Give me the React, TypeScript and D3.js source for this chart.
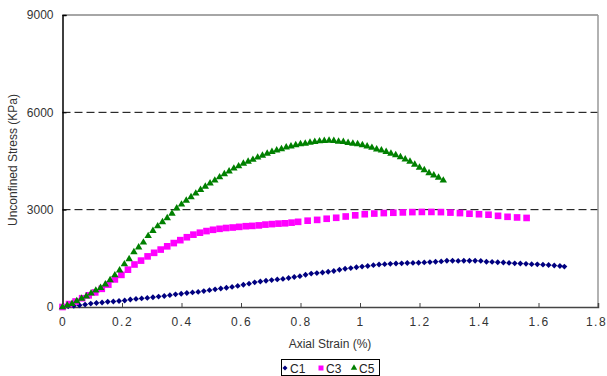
import React, { useEffect, useRef } from 'react';
import * as d3 from 'd3';

// axial strain (%), unconfined stress (kPa)
const c1: [number, number][] = [
  [0.000, 0], [0.019, 20], [0.038, 40], [0.057, 55], [0.076, 75], [0.095, 105],
  [0.114, 125], [0.133, 140], [0.152, 160], [0.171, 170], [0.190, 185], [0.209, 200],
  [0.228, 230], [0.247, 250], [0.266, 265], [0.285, 280], [0.304, 300], [0.323, 320],
  [0.342, 340], [0.361, 365], [0.380, 390], [0.399, 410], [0.418, 430], [0.437, 450],
  [0.456, 465], [0.475, 490], [0.494, 520], [0.513, 545], [0.532, 570], [0.551, 595],
  [0.570, 620], [0.589, 650], [0.608, 685], [0.627, 720], [0.646, 760], [0.665, 785],
  [0.684, 810], [0.703, 830], [0.722, 850], [0.741, 865], [0.760, 895], [0.779, 925],
  [0.798, 950], [0.817, 995], [0.836, 1030], [0.855, 1045], [0.874, 1065], [0.893, 1085],
  [0.912, 1110], [0.931, 1150], [0.950, 1180], [0.969, 1200], [0.988, 1225], [1.007, 1245],
  [1.026, 1265], [1.045, 1290], [1.064, 1310], [1.083, 1320], [1.102, 1330], [1.121, 1340],
  [1.140, 1345], [1.159, 1355], [1.178, 1360], [1.197, 1365], [1.216, 1375], [1.235, 1385],
  [1.254, 1395], [1.273, 1405], [1.292, 1425], [1.311, 1425], [1.330, 1420], [1.349, 1425],
  [1.368, 1425], [1.387, 1425], [1.406, 1420], [1.425, 1395], [1.444, 1390], [1.463, 1380],
  [1.482, 1370], [1.501, 1360], [1.520, 1345], [1.539, 1340], [1.558, 1330], [1.577, 1320],
  [1.596, 1315], [1.615, 1305], [1.634, 1295], [1.653, 1280], [1.672, 1265], [1.687, 1245],
];

const c3: [number, number][] = [
  [0.000, 0], [0.022, 90], [0.044, 170], [0.066, 270], [0.088, 360], [0.110, 450],
  [0.132, 560], [0.154, 690], [0.176, 850], [0.198, 990], [0.220, 1150], [0.242, 1310],
  [0.264, 1430], [0.286, 1560], [0.308, 1670], [0.330, 1770], [0.352, 1870], [0.374, 1970],
  [0.396, 2060], [0.418, 2150], [0.440, 2230], [0.462, 2290], [0.484, 2340], [0.506, 2380],
  [0.528, 2410], [0.550, 2435], [0.572, 2450], [0.594, 2470], [0.616, 2490], [0.638, 2500],
  [0.660, 2515], [0.682, 2540], [0.704, 2555], [0.726, 2570], [0.748, 2580], [0.770, 2600],
  [0.792, 2625], [0.824, 2660], [0.856, 2685], [0.888, 2720], [0.920, 2750], [0.952, 2790],
  [0.984, 2825], [1.016, 2860], [1.048, 2880], [1.080, 2895], [1.112, 2905], [1.144, 2915],
  [1.176, 2925], [1.208, 2930], [1.240, 2930], [1.272, 2925], [1.304, 2910], [1.336, 2895],
  [1.368, 2875], [1.400, 2860], [1.432, 2845], [1.464, 2810], [1.496, 2780], [1.528, 2760],
  [1.560, 2745],
];

const c5: [number, number][] = [
  [0.000, 0], [0.016, 50], [0.032, 100], [0.048, 180], [0.064, 260], [0.080, 330],
  [0.096, 420], [0.112, 510], [0.128, 590], [0.144, 700], [0.160, 830], [0.176, 980],
  [0.192, 1130], [0.208, 1320], [0.224, 1480], [0.240, 1690], [0.256, 1840], [0.272, 1990],
  [0.288, 2190], [0.304, 2350], [0.320, 2490], [0.336, 2620], [0.352, 2740], [0.368, 2880],
  [0.384, 3040], [0.400, 3160], [0.416, 3280], [0.432, 3390], [0.448, 3500], [0.464, 3610],
  [0.480, 3710], [0.496, 3810], [0.512, 3900], [0.528, 4000], [0.544, 4100], [0.560, 4180],
  [0.576, 4270], [0.592, 4340], [0.608, 4420], [0.624, 4480], [0.640, 4540], [0.656, 4610],
  [0.672, 4670], [0.688, 4730], [0.704, 4780], [0.720, 4830], [0.736, 4870], [0.752, 4920],
  [0.768, 4950], [0.784, 4990], [0.800, 5020], [0.816, 5040], [0.832, 5070], [0.848, 5090],
  [0.864, 5110], [0.880, 5120], [0.896, 5130], [0.912, 5120], [0.928, 5100], [0.944, 5090],
  [0.960, 5060], [0.976, 5040], [0.992, 5020], [1.008, 4990], [1.024, 4950], [1.040, 4910],
  [1.056, 4860], [1.072, 4830], [1.088, 4780], [1.104, 4730], [1.120, 4680], [1.136, 4620],
  [1.152, 4550], [1.168, 4480], [1.184, 4390], [1.200, 4300], [1.216, 4220], [1.232, 4130],
  [1.248, 4060], [1.264, 3990], [1.280, 3900],
];

const seriesNames = ['C1', 'C3', 'C5'];
const xTicks = [0, 0.2, 0.4, 0.6, 0.8, 1, 1.2, 1.4, 1.6, 1.8];
const yTicks = [0, 3000, 6000, 9000];

const W = 607;
const H = 376;
const font = 'Arial, "Liberation Sans", sans-serif';

export default function App() {
  const svgRef = useRef<SVGSVGElement>(null);

  useEffect(() => {
    const svg = d3.select(svgRef.current);
    svg.selectAll('*').remove();

    const x = d3.scaleLinear().domain([0, 1.8]).range([62.5, 598]);
    const y = d3.scaleLinear().domain([0, 9000]).range([307, 15]);

    // dashed gridlines
    svg.append('g')
      .selectAll('line')
      .data(yTicks.filter(t => t > 0 && t < 9000))
      .join('line')
      .attr('x1', x(0)).attr('x2', x(1.8))
      .attr('y1', d => y(d)).attr('y2', d => y(d))
      .attr('stroke', '#000').attr('stroke-width', 1)
      .attr('stroke-dasharray', '8,4');

    // frame: top + right grey
    svg.append('line')
      .attr('x1', x(0)).attr('x2', x(1.8)).attr('y1', y(9000)).attr('y2', y(9000))
      .attr('stroke', '#888').attr('stroke-width', 1.5);
    svg.append('line')
      .attr('x1', x(1.8)).attr('x2', x(1.8)).attr('y1', y(9000)).attr('y2', y(0))
      .attr('stroke', '#999').attr('stroke-width', 1.5);

    // x axis
    const xAxis = svg.append('g').attr('transform', `translate(0,${y(0)})`)
      .call(d3.axisBottom(x).tickValues(xTicks).tickSize(-4).tickPadding(10)
        .tickFormat(d => String(d)));
    xAxis.select('.domain').attr('stroke', '#444').attr('stroke-width', 1.5);
    xAxis.selectAll('.tick line').attr('stroke', '#444');
    xAxis.selectAll('text')
      .attr('font-family', font).attr('font-size', 12).attr('fill', '#333')
      .attr('letter-spacing', 1.5)
      .attr('dx', (d: any) => (d === 1.8 ? -2 : 0));

    // y axis
    const yAxis = svg.append('g').attr('transform', `translate(${x(0)},0)`)
      .call(d3.axisLeft(y).tickValues(yTicks).tickSize(-4).tickPadding(9)
        .tickFormat(d => String(d)));
    yAxis.select('.domain').attr('stroke', '#000').attr('stroke-width', 1.5);
    yAxis.selectAll('.tick line').attr('stroke', '#000');
    yAxis.selectAll('text')
      .attr('font-family', font).attr('font-size', 12).attr('fill', '#333');

    // titles
    svg.append('text')
      .attr('x', 330).attr('y', 348)
      .attr('text-anchor', 'middle')
      .attr('font-family', font).attr('font-size', 12).attr('fill', '#333')
      .text('Axial Strain (%)');
    svg.append('text')
      .attr('transform', 'translate(17,160) rotate(-90)')
      .attr('text-anchor', 'middle')
      .attr('font-family', font).attr('font-size', 12).attr('fill', '#333')
      .text('Unconfined Stress (KPa)');

    const styles = [
      { data: c1, shape: d3.symbol(d3.symbolDiamond2, 22)(), color: '#000080' },
      { data: c3, shape: d3.symbol(d3.symbolSquare, 44)(), color: '#FF00FF' },
      { data: c5, shape: d3.symbol(d3.symbolTriangle, 24)(), color: '#008000' },
    ];

    styles.forEach(s => {
      svg.append('g')
        .selectAll('path')
        .data(s.data)
        .join('path')
        .attr('transform', d => `translate(${x(d[0])},${y(d[1])})`)
        .attr('d', s.shape)
        .attr('fill', s.color);
    });

    // legend
    const lg = svg.append('g');
    lg.append('rect')
      .attr('x', 281.5).attr('y', 359.5).attr('width', 98).attr('height', 16)
      .attr('fill', '#fff').attr('stroke', '#000').attr('stroke-width', 1);
    const lx = [285, 321, 354];
    const legendShapes = [
      d3.symbol(d3.symbolDiamond2, 16)(),
      d3.symbol(d3.symbolSquare, 25)(),
      d3.symbol(d3.symbolTriangle, 18)(),
    ];
    styles.forEach((s, i) => {
      lg.append('path')
        .attr('transform', `translate(${lx[i]},368)`)
        .attr('d', legendShapes[i])
        .attr('fill', s.color);
      lg.append('text')
        .attr('x', lx[i] + 5).attr('y', 372.5)
        .attr('font-family', font).attr('font-size', 12).attr('fill', '#222')
        .text(seriesNames[i]);
    });
  }, []);

  return (
    <div style={{ position: 'absolute', left: 0, top: 0 }}>
      <svg ref={svgRef} width={W} height={H} style={{ display: 'block', background: '#fff' }} />
    </div>
  );
}
